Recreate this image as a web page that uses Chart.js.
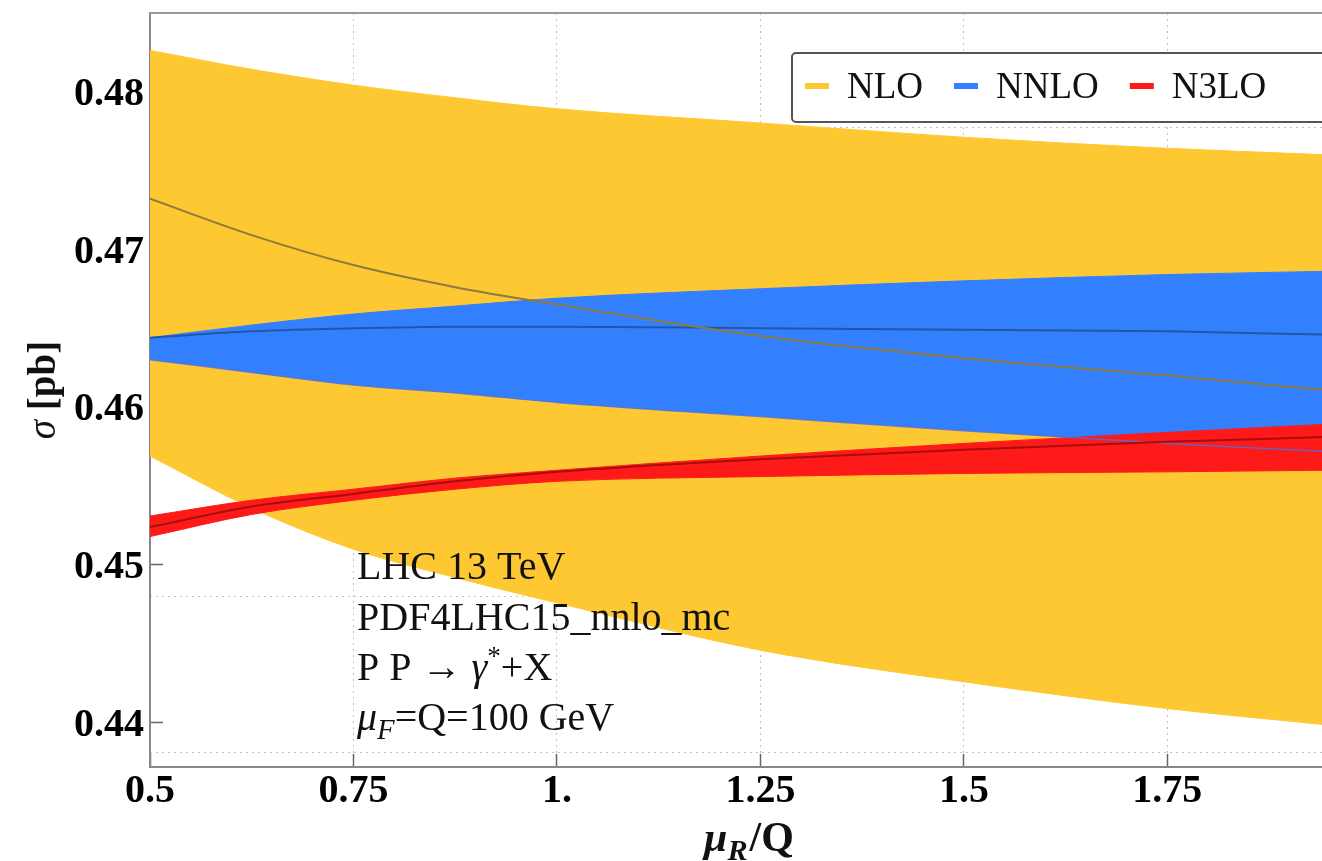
<!DOCTYPE html>
<html>
<head>
<meta charset="utf-8">
<script src="https://cdn.jsdelivr.net/npm/chart.js@4.4.0/dist/chart.umd.min.js"></script>
<style>
  html,body{margin:0;padding:0;background:#fff;overflow:hidden}
  canvas{display:block}
</style>
</head>
<body>
<canvas id="c" width="1322" height="861"></canvas>
<script>
// --- data (x = muR/Q, y = sigma in pb) ---
const muR    = [0.5,    0.625,  0.75,   0.875,  1.0,    1.25,   1.5,    1.75,   1.94];
const nloHi  = [0.4826, 0.4814, 0.4804, 0.4796, 0.4789, 0.4780, 0.4771, 0.4764, 0.4760];
const nloMid = [0.4732, 0.4709, 0.4690, 0.4676, 0.4665, 0.4645, 0.4631, 0.4620, 0.4611];
const nloLo  = [0.4569, 0.4536, 0.4510, 0.4492, 0.4476, 0.4446, 0.4426, 0.4409, 0.4399];
const nnloHi = [0.4644, 0.4652, 0.4659, 0.4664, 0.4669, 0.4675, 0.4680, 0.4684, 0.4686];
const nnloMid= [0.4644, 0.4648, 0.4650, 0.4651, 0.4651, 0.4650, 0.4649, 0.4648, 0.4646];
const nnloLo = [0.4630, 0.4622, 0.4614, 0.4609, 0.4603, 0.4594, 0.4585, 0.4577, 0.4572];
const n3loHi = [0.4531, 0.4541, 0.4548, 0.4555, 0.4560, 0.4569, 0.4577, 0.4584, 0.4589];
const n3loMid= [0.4524, 0.4537, 0.4545, 0.4553, 0.4559, 0.4567, 0.4573, 0.4578, 0.4581];
const n3loLo = [0.4518, 0.4532, 0.4541, 0.4548, 0.4553, 0.4556, 0.4558, 0.4559, 0.4560];

const xTicks      = [0.5, 0.75, 1.0, 1.25, 1.5, 1.75];
const xTickLabels = ['0.5','0.75','1.','1.25','1.5','1.75'];
const yTicks      = [0.44, 0.45, 0.46, 0.47, 0.48];
const yTickLabels = ['0.44','0.45','0.46','0.47','0.48'];
const yGrid       = [0.4381, 0.4480, 0.4579, 0.4678, 0.4777];
const legendNames = ['NLO','NNLO','N3LO'];

const YEL='#FEC833', BLU='#3380FF', RED='#FF1A1A';
const SERIF='"Liberation Serif","Times New Roman",serif';

const pts = arr => muR.map((x,i)=>({x, y:arr[i]}));
function band(arr,color,order,fill){
  return {data:pts(arr),borderColor:color,borderWidth:1,backgroundColor:color,fill:fill,order:order,
    pointRadius:0,cubicInterpolationMode:'monotone'};
}
function line(arr,color,w,order){
  return {data:pts(arr),borderColor:color,borderWidth:w,fill:false,order:order,
    pointRadius:0,cubicInterpolationMode:'monotone'};
}

const datasets=[
  line(nloMid,'#8c7a3e',2,0),                 // 0
  line(nnloMid,'#2456a8',2,1),                // 1
  line(n3loMid,'#a80c0c',2,2),                // 2
  line(nnloLo,'rgba(80,110,220,0.8)',1.5,3),  // 3 NNLO lower edge (shows over red)
  band(n3loHi,RED,4,5),                       // 4
  band(n3loLo,RED,4.5,false),                 // 5
  band(nnloHi,BLU,5,3),                       // 6
  band(nloHi,YEL,6,8),                        // 7
  band(nloLo,YEL,7,false)                     // 8
];

function fontOf(p,size){
  const s = p.sub||p.sup ? size*(p.sub?0.72:0.68) : size;
  return (p.i?'italic ':'')+(p.b?'bold ':'')+s+'px '+SERIF;
}
function runs(ctx,parts,x,y,size){
  parts.forEach(p=>{
    ctx.font=fontOf(p,size);
    const dy = p.sub? size*0.22 : p.sup? -size*0.38 : 0;
    ctx.fillText(p.t,x,y+dy);
    x+=ctx.measureText(p.t).width+(p.gap||0);
  });
  return x;
}
function runsWidth(ctx,parts,size){
  let w=0;
  parts.forEach(p=>{ctx.font=fontOf(p,size); w+=ctx.measureText(p.t).width+(p.gap||0);});
  return w;
}

const deco={
  id:'deco',
  afterDraw(chart){
    const {ctx,chartArea:ca}=chart;
    ctx.save();
    // top frame
    ctx.strokeStyle='#999'; ctx.lineWidth=2;
    ctx.beginPath(); ctx.moveTo(ca.left,ca.top); ctx.lineTo(ca.right,ca.top); ctx.stroke();

    // legend
    const lx=ca.left+642, ly=ca.top+40;
    ctx.fillStyle='#fff'; ctx.strokeStyle='#555'; ctx.lineWidth=2;
    ctx.beginPath(); ctx.roundRect(lx,ly,ca.right-lx+20,69,4); ctx.fill(); ctx.stroke();
    ctx.font='37px '+SERIF; ctx.textBaseline='middle'; ctx.textAlign='left';
    const cols=[YEL,BLU,RED];
    let x=lx+13; const cy=ly+33;
    legendNames.forEach((n,i)=>{
      ctx.fillStyle=cols[i]; ctx.fillRect(x,cy-3,24,6);
      ctx.fillStyle='#111'; ctx.fillText(n,x+42,cy+2);
      x+=42+ctx.measureText(n).width+31;
    });

    // info text
    ctx.fillStyle='#111'; ctx.textBaseline='alphabetic';
    const tx=ca.left+207, fs=40;
    runs(ctx,[{t:'LHC 13 TeV'}],tx,ca.top+566,fs);
    runs(ctx,[{t:'PDF4LHC15_nnlo_mc'}],tx,ca.top+617,fs);
    runs(ctx,[{t:'P P \u2192 '},{t:'\u03B3',i:1},{t:'*',sup:1},{t:'+X'}],tx,ca.top+667,fs);
    runs(ctx,[{t:'\u03BC',i:1},{t:'F',i:1,sub:1},{t:'=Q=100 GeV'}],tx,ca.top+717,fs);

    // x title
    const xt=[{t:'\u03BC',i:1,b:1},{t:'R',i:1,b:1,sub:1,gap:2},{t:'/Q',b:1}];
    const xs=42, xw=runsWidth(ctx,xt,xs);
    runs(ctx,xt,749-xw/2,851,xs);

    // y title (rotated)
    const yt=[{t:'\u03C3',i:1},{t:' [pb]',b:1}];
    const ys=39;
    ctx.translate(45,(ca.top+ca.bottom)/2); ctx.rotate(-Math.PI/2);
    ctx.textBaseline='middle';
    const yw=runsWidth(ctx,yt,ys);
    runs(ctx,yt,-yw/2,0,ys);
    ctx.restore();
  }
};

const tickFont={family:SERIF,size:40,weight:'bold'};
const noPad=s=>{s.paddingTop=0;s.paddingBottom=0;};

new Chart(document.getElementById('c'),{
  type:'line',
  data:{datasets},
  options:{
    responsive:false,animation:false,
    layout:{padding:{top:13,left:0,right:0,bottom:0}},
    plugins:{legend:{display:false},tooltip:{enabled:false}},
    scales:{
      x:{type:'linear',min:0.5,max:1.94,
        afterBuildTicks:s=>{s.ticks=xTicks.map(v=>({value:v}));},
        afterFit:s=>{s.height=94;s.paddingLeft=0;s.paddingRight=0;},
        ticks:{callback:(v,i)=>xTickLabels[i],font:tickFont,color:'#000',padding:14,maxRotation:0,autoSkip:false},
        grid:{color:'#c2c2c2',lineWidth:1,tickLength:-13,tickColor:'#666',tickWidth:1.5,tickBorderDash:[]},
        border:{color:'#888',width:2,dash:[2,4]}
      },
      y:{type:'linear',position:'left',min:0.4372,max:0.48497,
        afterBuildTicks:s=>{s.ticks=yTicks.map(v=>({value:v}));},
        afterFit:s=>{s.width=150;noPad(s);},
        ticks:{callback:(v,i)=>yTickLabels[i],font:tickFont,color:'#000',padding:19,labelOffset:3,autoSkip:false},
        grid:{drawOnChartArea:false,tickLength:-13,tickColor:'#666',tickWidth:1.5},
        border:{color:'#888',width:2}
      },
      yg:{type:'linear',position:'right',min:0.4372,max:0.48497,
        afterBuildTicks:s=>{s.ticks=yGrid.map(v=>({value:v}));},
        afterFit:s=>{s.width=0;noPad(s);},
        ticks:{display:false},
        grid:{color:'#c2c2c2',lineWidth:1,drawTicks:false},
        border:{display:false,dash:[2,4]}
      }
    }
  },
  plugins:[deco]
});
</script>
</body>
</html>
